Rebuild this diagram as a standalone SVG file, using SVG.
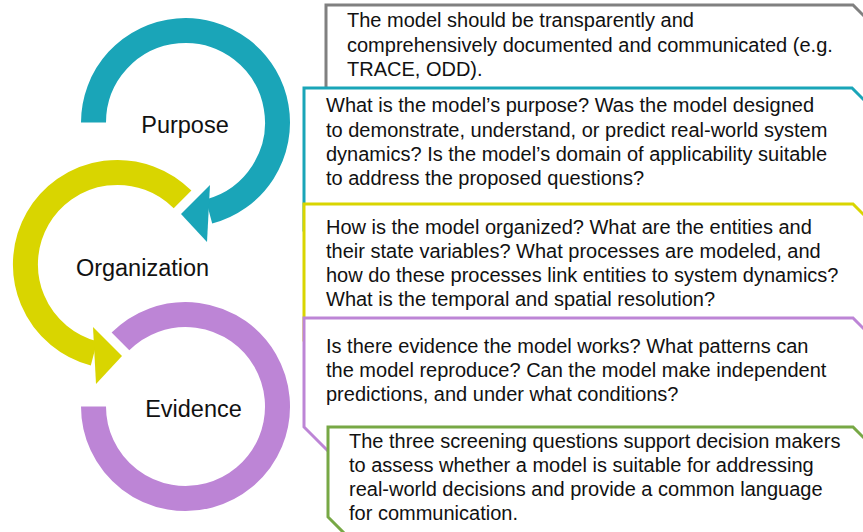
<svg xmlns="http://www.w3.org/2000/svg" width="863" height="532" viewBox="0 0 863 532">
<style>
.box{fill:#fff;stroke-width:3;stroke-linejoin:miter}
.t{font-family:"Liberation Sans",Arial,sans-serif;font-size:20px;fill:#111}
.lbl{font-family:"Liberation Sans",Arial,sans-serif;font-size:23.5px;fill:#111;text-anchor:middle}
.ring{fill:none;stroke-width:25;stroke-linecap:butt}
</style>
<rect width="863" height="532" fill="#fff"/>
<g id="connectors">
<path class="ring" stroke="#1aa5b8" d="M93.5,122.5 A92,92 0 1 1 209,211.5"/>
<polygon fill="#1aa5b8" points="210,185 207,242 181,214"/>
<path class="ring" stroke="#d9d500" d="M182.55,199.45 A92,92 0 1 0 94,353.4"/>
<polygon fill="#d9d500" points="93,327 96,384 122,356"/>
<path class="ring" stroke="#bd85d6" d="M120.45,341.45 A92,92 0 1 1 93.5,406.5"/>
</g>
<g id="purpose">
<text class="lbl" x="185" y="133">Purpose</text>
</g>
<g id="organization">
<text class="lbl" x="142.5" y="276">Organization</text>
</g>
<g id="evidence">
<text class="lbl" x="193.5" y="417">Evidence</text>
</g>
<g id="box-documentation">
<path class="box" stroke="#808080" d="M326,5 H853 L880,32 V110 H326 Z"/>
<text class="t" x="347" y="27">The model should be transparently and</text>
<text class="t" x="347" y="52">comprehensively documented and communicated (e.g.</text>
<text class="t" x="347" y="76">TRACE, ODD).</text>
</g>
<g id="box-purpose">
<path class="box" stroke="#1aa5b8" d="M304,88 H852 L880,116 V230 H304 Z"/>
<text class="t" x="326" y="112">What is the model’s purpose? Was the model designed</text>
<text class="t" x="326" y="137">to demonstrate, understand, or predict real-world system</text>
<text class="t" x="326" y="161">dynamics? Is the model’s domain of applicability suitable</text>
<text class="t" x="326" y="185">to address the proposed questions?</text>
</g>
<g id="box-organization">
<path class="box" stroke="#d9d500" d="M304,204 H853 L880,231 V340 H304 Z"/>
<text class="t" x="326" y="234">How is the model organized? What are the entities and</text>
<text class="t" x="326" y="258">their state variables? What processes are modeled, and</text>
<text class="t" x="326" y="282">how do these processes link entities to system dynamics?</text>
<text class="t" x="326" y="306">What is the temporal and spatial resolution?</text>
</g>
<g id="box-evidence">
<path class="box" stroke="#bd85d6" d="M304,318 H853 L880,345 V480 H357 L304,427 Z"/>
<text class="t" x="326" y="353">Is there evidence the model works? What patterns can</text>
<text class="t" x="326" y="377">the model reproduce? Can the model make independent</text>
<text class="t" x="326" y="401">predictions, and under what conditions?</text>
</g>
<g id="box-summary">
<path class="box" stroke="#77a845" d="M328,427 H853 L880,454 V560 H371 L328,517 Z"/>
<text class="t" x="349" y="448">The three screening questions support decision makers</text>
<text class="t" x="349" y="472">to assess whether a model is suitable for addressing</text>
<text class="t" x="349" y="496">real-world decisions and provide a common language</text>
<text class="t" x="349" y="520">for communication.</text>
</g>
</svg>
